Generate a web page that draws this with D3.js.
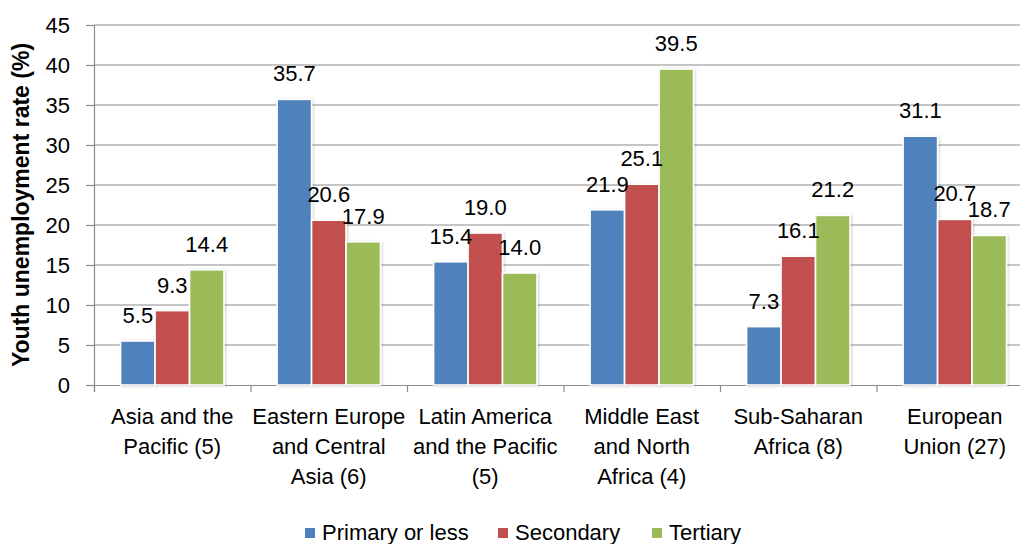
<!DOCTYPE html>
<html><head><meta charset="utf-8">
<script src="https://cdn.jsdelivr.net/npm/d3@7"></script>
<style>
html,body{margin:0;padding:0;background:#fff;}
text{font-family:"Liberation Sans",Arial,sans-serif;}
</style></head>
<body>
<svg id="chart" width="1020" height="544"></svg>
<script>
const categories = [
  ["Asia and the","Pacific (5)"],
  ["Eastern Europe","and Central","Asia (6)"],
  ["Latin America","and the Pacific","(5)"],
  ["Middle East","and North","Africa (4)"],
  ["Sub-Saharan","Africa (8)"],
  ["European","Union (27)"]
];
const seriesNames = ["Primary or less","Secondary","Tertiary"];
const primary   = [5.5, 35.7, 15.4, 21.9, 7.3, 31.1];
const secondary = [9.3, 20.6, 19.0, 25.1, 16.1, 20.7];
const tertiary  = [14.4, 17.9, 14.0, 39.5, 21.2, 18.7];
const yTicks = [0,5,10,15,20,25,30,35,40,45];
const colors = ["#4F81BD","#C0504D","#9BBB59"];
const yTitle = "Youth unemployment rate (%)";

(function(){
const series = [primary, secondary, tertiary];
const svg = d3.select("#chart");
const pLeft = 94, pTop = 25, pBottom = 385, pRight = 1033;
const catIdx = categories.map((d,i)=>i);

const x0 = d3.scaleBand().domain(catIdx).range([pLeft, pRight]).padding(0);
const x1 = d3.scaleBand().domain([0,1,2]).range([26.6, 130]).padding(0);
const y = d3.scaleLinear().domain([0,45]).range([pBottom, pTop]);

const defs = svg.append("defs");
const f = defs.append("filter").attr("id","sh").attr("x","-20%").attr("y","-5%").attr("width","150%").attr("height","115%");
f.append("feDropShadow").attr("dx",1.2).attr("dy",0.5).attr("stdDeviation",1.0).attr("flood-color","#000").attr("flood-opacity",0.18);

// gridlines
svg.append("g").selectAll("line").data(yTicks.filter(t=>t>0)).join("line")
  .attr("x1", pLeft).attr("x2", 1020)
  .attr("y1", d=>y(d)).attr("y2", d=>y(d))
  .attr("stroke","#8c8c8c").attr("stroke-width",1.2);

// y axis
const yAxis = d3.axisLeft(y).tickValues(yTicks).tickSize(8).tickPadding(16).tickFormat(d3.format("d"));
const gy = svg.append("g").attr("transform",`translate(${pLeft},0)`).call(yAxis);
gy.select(".domain").attr("stroke","#8c8c8c").attr("stroke-width",1.2);
gy.selectAll(".tick line").attr("stroke","#8c8c8c").attr("stroke-width",1.2);
gy.selectAll(".tick text").attr("font-size","22px").attr("fill","#000").attr("font-family","Liberation Sans, Arial, sans-serif");

// x axis
const xAxis = d3.axisBottom(d3.scaleLinear().domain([0,6]).range([pLeft,pRight])).tickValues([0,1,2,3,4,5,6]).tickSize(7).tickFormat("");
const gx = svg.append("g").attr("transform",`translate(0,${pBottom})`).call(xAxis);
gx.select(".domain").attr("stroke","#8c8c8c").attr("stroke-width",1.2);
gx.selectAll(".tick line").attr("stroke","#8c8c8c").attr("stroke-width",1.2);

// bars
const groups = svg.append("g").selectAll("g").data(catIdx).join("g")
  .attr("transform", i=>`translate(${x0(i)},0)`);
groups.selectAll("rect").data(i=>series.map((s,k)=>({k, v:s[i]}))).join("rect")
  .attr("x", d=>x1(d.k)).attr("width", x1.bandwidth())
  .attr("y", d=>y(d.v)).attr("height", d=>pBottom - y(d.v))
  .attr("fill", d=>colors[d.k]).attr("stroke","#fff").attr("stroke-width",1.6)
  .attr("filter","url(#sh)");
groups.selectAll("text.lbl").data(i=>series.map((s,k)=>({k, v:s[i]}))).join("text")
  .attr("class","lbl")
  .attr("x", d=>x1(d.k)+x1.bandwidth()/2)
  .attr("y", d=>y(d.v)-18)
  .attr("text-anchor","middle").attr("font-size","22px").attr("fill","#000")
  .text(d=>d.v.toFixed(1));

// category labels
const cl = svg.append("g").selectAll("text").data(catIdx).join("text")
  .attr("x", i=>x0(i)+x0.bandwidth()/2).attr("y", 424)
  .attr("text-anchor","middle").attr("font-size","22px").attr("fill","#000");
cl.selectAll("tspan").data(i=>categories[i]).join("tspan")
  .attr("x", function(){return d3.select(this.parentNode).attr("x");})
  .attr("dy", (d,j)=> j===0 ? 0 : 30)
  .text(d=>d);

// y title
svg.append("text").attr("transform",`translate(29,${(pTop+pBottom)/2}) rotate(-90)`)
  .attr("text-anchor","middle").attr("font-size","23px").attr("font-weight","bold").attr("fill","#000")
  .text(yTitle);

// legend
const legX = [305, 498, 652];
const lg = svg.append("g").selectAll("g").data(seriesNames).join("g")
  .attr("transform",(d,i)=>`translate(${legX[i]},528)`);
lg.append("rect").attr("width",10).attr("height",10).attr("fill",(d,i)=>colors[i]);
lg.append("text").attr("x",17).attr("y",12).attr("font-size","22px").attr("fill","#000").text(d=>d);
})();
</script>
</body></html>
